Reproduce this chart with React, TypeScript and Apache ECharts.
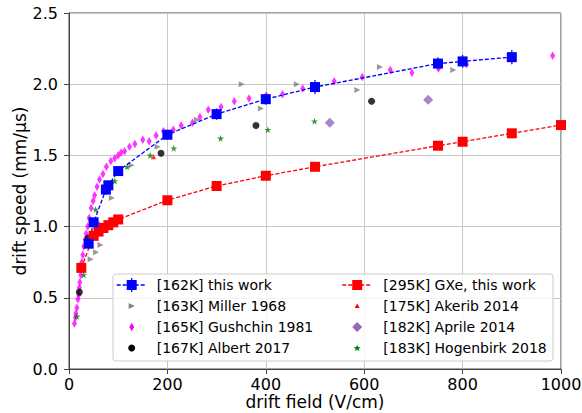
import React, { useEffect, useRef } from "react";
import * as echarts from "echarts";

// ---- data (drift field V/cm, drift speed mm/us) ----
const blueField = [40, 50, 75, 80, 100, 200, 300, 400, 500, 750, 800, 900];
const blueSpeed = [0.88, 1.03, 1.26, 1.29, 1.39, 1.645, 1.79, 1.895, 1.98, 2.145, 2.16, 2.19];
const blueErr = [0.03, 0.03, 0.03, 0.03, 0.035, 0.035, 0.04, 0.04, 0.05, 0.045, 0.045, 0.05];

const gxeField = [25, 50, 60, 70, 80, 90, 100, 200, 300, 400, 500, 750, 800, 900, 1000];
const gxeSpeed = [0.71, 0.935, 0.965, 0.99, 1.01, 1.03, 1.05, 1.185, 1.285, 1.357, 1.42, 1.568, 1.596, 1.655, 1.713];

const miller: number[][] = [
  [44, 0.77], [55, 0.82], [64, 0.87], [63, 1.02], [87, 1.2], [127, 1.43], [180, 1.56],
  [260, 1.75], [351, 2.0], [390, 1.83], [463, 2.0], [586, 1.96], [632, 2.12], [781, 2.1],
];
const gushchin: number[][] = [
  [11, 0.32], [13, 0.36], [14, 0.39], [16, 0.43], [18, 0.49], [20, 0.52], [21, 0.57], [22, 0.61],
  [24, 0.66], [25, 0.71], [26, 0.75], [28, 0.8], [30, 0.86], [33, 0.91], [35, 0.95], [38, 1.0],
  [41, 1.06], [45, 1.13], [49, 1.18], [52, 1.22], [57, 1.28], [62, 1.33], [69, 1.37], [76, 1.42],
  [85, 1.46], [93, 1.48], [100, 1.5], [106, 1.52], [113, 1.53], [123, 1.56], [134, 1.58], [150, 1.61],
  [163, 1.6], [177, 1.64], [192, 1.67], [212, 1.68], [228, 1.71], [251, 1.73], [266, 1.77], [283, 1.82],
  [309, 1.84], [336, 1.88], [366, 1.9], [401, 1.92], [434, 1.93], [475, 1.97], [539, 2.02], [596, 2.05],
  [653, 2.1], [697, 2.08], [751, 2.11], [808, 2.14], [900, 2.17], [983, 2.2],
];
const albert: number[][] = [[21, 0.54], [39, 0.92], [75, 1.25], [187, 1.515], [380, 1.71], [615, 1.88]];
const akerib: number[][] = [[172, 1.49]];
const aprile: number[][] = [[530, 1.73], [730, 1.89]];
const hogenbirk: number[][] = [
  [16, 0.37], [30, 0.66], [54, 1.12], [93, 1.32], [118, 1.42], [165, 1.5], [213, 1.55],
  [308, 1.62], [404, 1.68], [499, 1.74],
];

const xTicks = [0, 200, 400, 600, 800, 1000];
const yTicks = [0, 0.5, 1.0, 1.5, 2.0, 2.5];

const N_BLUE = "[162K] this work";
const N_GXE = "[295K] GXe, this work";
const N_MIL = "[163K] Miller 1968";
const N_AKE = "[175K] Akerib 2014";
const N_GUS = "[165K] Gushchin 1981";
const N_APR = "[182K] Aprile 2014";
const N_ALB = "[167K] Albert 2017";
const N_HOG = "[183K] Hogenbirk 2018";

const C_BLUE = "#0000ff";
const C_RED = "#ff0000";
const C_GRAY = "#808080";
const C_MAG = "#ff00ff";
const C_BLACK = "#000000";
const C_PURPLE = "#9467bd";
const C_GREEN = "#008000";

const STAR = "path://M50,0L61.2,34.5L97.6,34.5L68.2,55.9L79.4,90.5L50,69.1L20.6,90.5L31.8,55.9L2.4,34.5L38.8,34.5Z";
const TRI_RIGHT = "path://M0,0L10,5L0,10Z";
const TRI_UP = "path://M5,0L10,9L0,9Z";
const THIN_DIAMOND = "path://M3,0L6,5L3,10L0,5Z";
const DIAMOND = "path://M5,0L10,5L5,10L0,5Z";

const FONT = "DejaVu Sans";

function starPts(cx: number, cy: number, R: number, r: number) {
  const pts: number[][] = [];
  for (let k = 0; k < 10; k++) {
    const a = -Math.PI / 2 + (k * Math.PI) / 5;
    const rr = k % 2 === 0 ? R : r;
    pts.push([cx + rr * Math.cos(a), cy + rr * Math.sin(a)]);
  }
  return pts;
}

function legendGraphics() {
  const rows = [285, 306, 327, 348];
  const c1 = 131.7; // icon centre, column 1
  const c2 = 357.2; // icon centre, column 2
  const t1 = 156.7;
  const t2 = 383.3;
  const z = 11;
  const els: any[] = [];
  els.push({
    type: "rect", z: 10, shape: { x: 113, y: 274, width: 440, height: 87, r: 3 },
    style: { fill: "rgba(255,255,255,0.8)", stroke: "#cccccc", lineWidth: 1 },
  });
  const lineIcon = (cx: number, cy: number, color: string, err: boolean) => {
    els.push({
      type: "line", z, shape: { x1: cx - 15, y1: cy, x2: cx + 15, y2: cy },
      style: { stroke: color, lineWidth: 1.3, lineDash: [4, 2] },
    });
    if (err) {
      els.push({
        type: "line", z, shape: { x1: cx, y1: cy - 7, x2: cx, y2: cy + 7 },
        style: { stroke: color, lineWidth: 1.2 },
      });
    }
    els.push({
      type: "rect", z: z + 1, shape: { x: cx - 5, y: cy - 5, width: 10, height: 10 },
      style: { fill: color },
    });
  };
  const text = (x: number, y: number, s: string) =>
    els.push({
      type: "text", z, x, y,
      style: { text: s, fontFamily: FONT, fontSize: 14, fill: "#000", verticalAlign: "middle", align: "left" },
    });

  lineIcon(c1, rows[0], C_BLUE, true);
  text(t1, rows[0], N_BLUE);
  els.push({
    type: "polygon", z, shape: { points: [[c1 - 3, rows[1] - 3], [c1 + 3, rows[1]], [c1 - 3, rows[1] + 3]] },
    style: { fill: C_GRAY },
  });
  text(t1, rows[1], N_MIL);
  els.push({
    type: "polygon", z,
    shape: { points: [[c1, rows[2] - 4.25], [c1 + 2.5, rows[2]], [c1, rows[2] + 4.25], [c1 - 2.5, rows[2]]] },
    style: { fill: C_MAG },
  });
  text(t1, rows[2], N_GUS);
  els.push({ type: "circle", z, shape: { cx: c1, cy: rows[3], r: 3.5 }, style: { fill: C_BLACK } });
  text(t1, rows[3], N_ALB);

  lineIcon(c2, rows[0], C_RED, false);
  text(t2, rows[0], N_GXE);
  els.push({
    type: "polygon", z,
    shape: { points: [[c2, rows[1] - 2.5], [c2 + 2.5, rows[1] + 2], [c2 - 2.5, rows[1] + 2]] },
    style: { fill: C_RED },
  });
  text(t2, rows[1], N_AKE);
  els.push({
    type: "polygon", z,
    shape: { points: [[c2, rows[2] - 5], [c2 + 5, rows[2]], [c2, rows[2] + 5], [c2 - 5, rows[2]]] },
    style: { fill: C_PURPLE },
  });
  text(t2, rows[2], N_APR);
  els.push({ type: "polygon", z, shape: { points: starPts(c2, rows[3] + 0.3, 3.8, 1.5) }, style: { fill: C_GREEN } });
  text(t2, rows[3], N_HOG);
  return els;
}

export default function App() {
  const ref = useRef<HTMLDivElement>(null);
  useEffect(() => {
    const chart = echarts.init(ref.current!, null, { renderer: "svg" });

    const option: any = {
      animation: false,
      backgroundColor: "#fff",
      grid: {
        left: 69, right: 21, top: 13, bottom: 44,
        outerBoundsMode: "none", containLabel: false,
        show: true, borderColor: "#444", borderWidth: 1, backgroundColor: "transparent",
      },
      xAxis: {
        type: "value", min: 0, max: 1000, interval: 200,
        name: "drift field (V/cm)", nameLocation: "middle", nameGap: 24.5, nameMoveOverlap: false,
        nameTextStyle: { fontFamily: FONT, fontSize: 17, color: "#000" },
        axisLine: { show: true, onZero: false, lineStyle: { color: "#444", width: 1 } },
        axisTick: { show: true, inside: false, length: 5, lineStyle: { color: "#444" } },
        axisLabel: {
          fontFamily: FONT, fontSize: 16, color: "#000", margin: 7,
          formatter: (v: number) => (xTicks.includes(v) ? String(v) : ""),
        },
        splitLine: { show: true, lineStyle: { color: "#c8c8c8", width: 1 } },
      },
      yAxis: {
        type: "value", min: 0, max: 2.5, interval: 0.5,
        name: "drift speed (mm/\u03bcs)", nameLocation: "middle", nameGap: 41, nameMoveOverlap: false,
        nameTextStyle: { fontFamily: FONT, fontSize: 17, color: "#000" },
        axisLine: { show: true, onZero: false, lineStyle: { color: "#444", width: 1 } },
        axisTick: { show: true, inside: false, length: 5, lineStyle: { color: "#444" } },
        axisLabel: {
          fontFamily: FONT, fontSize: 16, color: "#000", margin: 11,
          formatter: (v: number) => (yTicks.includes(v) ? v.toFixed(1) : ""),
        },
        splitLine: { show: true, lineStyle: { color: "#c8c8c8", width: 1 } },
      },
      graphic: legendGraphics(),
      series: [
        {
          type: "scatter", name: N_GUS, data: gushchin,
          symbol: THIN_DIAMOND, symbolSize: [5, 8.5], itemStyle: { color: C_MAG },
        },
        {
          type: "scatter", name: N_MIL, data: miller,
          symbol: TRI_RIGHT, symbolSize: [6, 6], itemStyle: { color: C_GRAY },
        },
        {
          type: "scatter", name: N_ALB, data: albert,
          symbol: "circle", symbolSize: 7, itemStyle: { color: C_BLACK },
        },
        {
          type: "scatter", name: N_AKE, data: akerib,
          symbol: TRI_UP, symbolSize: [5, 5], itemStyle: { color: C_RED },
        },
        {
          type: "scatter", name: N_APR, data: aprile,
          symbol: DIAMOND, symbolSize: [10, 10], itemStyle: { color: C_PURPLE },
        },
        {
          type: "scatter", name: N_HOG, data: hogenbirk,
          symbol: STAR, symbolSize: [7, 7], itemStyle: { color: C_GREEN },
        },
        {
          type: "line", name: N_GXE,
          data: gxeField.map((x, i) => [x, gxeSpeed[i]]),
          symbol: "rect", symbolSize: 10, showSymbol: true,
          itemStyle: { color: C_RED },
          lineStyle: { color: C_RED, width: 1.3, type: [4, 2] },
        },
        {
          type: "custom", name: "errBlue",
          data: blueField.map((x, i) => [x, blueSpeed[i], blueErr[i]]),
          encode: { x: 0, y: 1 },
          silent: true,
          renderItem: (_p: any, api: any) => {
            const x = api.value(0), y = api.value(1), e = api.value(2);
            const a = api.coord([x, y - e]);
            const b = api.coord([x, y + e]);
            return {
              type: "line",
              shape: { x1: a[0], y1: a[1], x2: b[0], y2: b[1] },
              style: { stroke: C_BLUE, lineWidth: 1.2 },
            };
          },
        },
        {
          type: "line", name: N_BLUE,
          data: blueField.map((x, i) => [x, blueSpeed[i]]),
          symbol: "rect", symbolSize: 10, showSymbol: true,
          itemStyle: { color: C_BLUE },
          lineStyle: { color: C_BLUE, width: 1.3, type: [4, 2] },
        },
      ],
    };
    chart.setOption(option);
    return () => chart.dispose();
  }, []);
  return (
    <div
      ref={ref}
      style={{ position: "fixed", left: 0, top: 0, width: 582, height: 413, background: "#fff" }}
    />
  );
}
